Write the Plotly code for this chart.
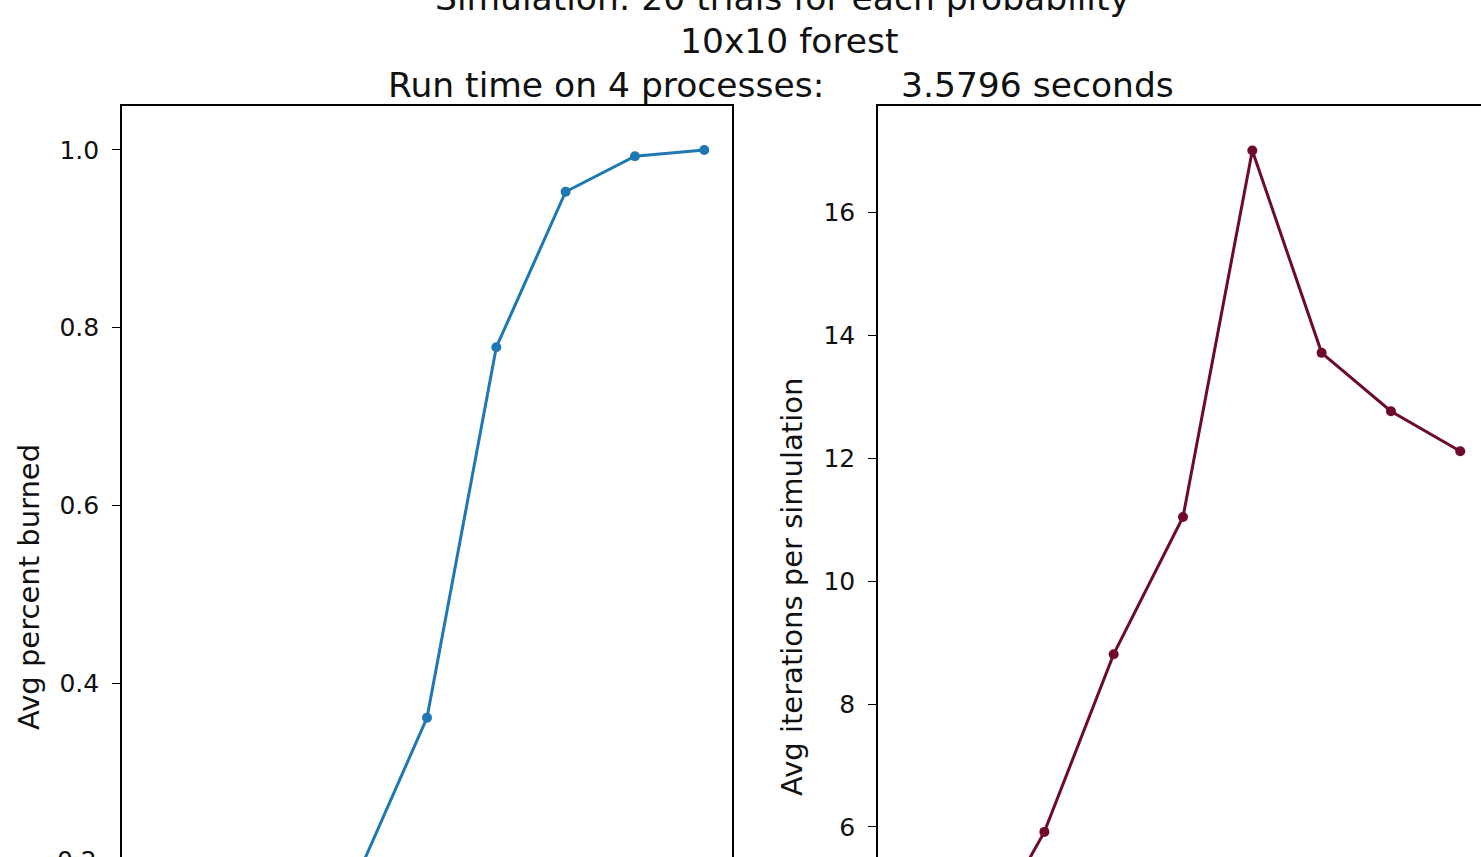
import plotly.graph_objects as go

# ---- data ----
probabilities = [0.2, 0.3, 0.4, 0.5, 0.6, 0.7, 0.8, 0.9, 1.0]
avg_percent_burned = [0.01, 0.03, 0.07, 0.184, 0.361, 0.778, 0.953, 0.993, 1.0]
avg_iterations = [2.6, 3.9, 5.92, 8.81, 11.04, 17.0, 13.71, 12.76, 12.11]

title_lines = [
    "Simulation: 20 trials for each probability",
    "10x10 forest",
    "Run time on 4 processes:" + "\u00a0" * 7 + "3.5796 seconds",
]
left_ylabel = "Avg percent burned"
right_ylabel = "Avg iterations per simulation"
left_ticks = [0.2, 0.4, 0.6, 0.8, 1.0]
right_ticks = [4, 6, 8, 10, 12, 14, 16]

W, H = 1481, 857
ML, MT = 122, 106
PW, PH = W - ML, H - MT

FONT = "DejaVu Sans"
BLUE = "#1f77b4"
MAROON = "#6e0a2e"
TEXT = "#111111"

left_yrange = [0.2043, 1.0495]
right_yrange = [5.512, 17.724]

fig = go.Figure()
fig.add_trace(go.Scatter(
    x=probabilities, y=avg_percent_burned, mode="lines+markers",
    line=dict(color=BLUE, width=3), marker=dict(color=BLUE, size=10),
    xaxis="x", yaxis="y", showlegend=False))
fig.add_trace(go.Scatter(
    x=probabilities, y=avg_iterations, mode="lines+markers",
    line=dict(color=MAROON, width=3), marker=dict(color=MAROON, size=10),
    xaxis="x2", yaxis="y2", showlegend=False))

xcommon = dict(showline=True, linecolor="black", linewidth=1.6, side="top",
               ticks="", showticklabels=False, showgrid=False, zeroline=False)
ycommon = dict(showline=True, linecolor="black", linewidth=1.6, ticks="outside",
               ticklen=8, tickwidth=1.4, tickcolor="black", showgrid=False,
               zeroline=False, ticklabelstandoff=8,
               tickfont=dict(family=FONT, size=25, color=TEXT))

left_dom = [0, 610 / PW]
right_dom = [(878 - ML) / PW, 1]

fig.update_layout(
    width=W, height=H,
    margin=dict(l=ML, r=0, t=MT, b=0, pad=0),
    paper_bgcolor="white", plot_bgcolor="white",
    xaxis=dict(domain=left_dom, range=[0.16, 1.04], anchor="y", **xcommon),
    xaxis2=dict(domain=right_dom, range=[0.16, 0.16 + (W - 878) / 610 * 0.88],
                anchor="y2", **xcommon),
    yaxis=dict(domain=[0, 1], range=left_yrange, anchor="x", mirror=True,
               tickvals=left_ticks, ticktext=[f"{v:.1f}" for v in left_ticks],
               **ycommon),
    yaxis2=dict(domain=[0, 1], range=right_yrange, anchor="x2", mirror=False,
                tickvals=right_ticks, ticktext=[str(v) for v in right_ticks],
                **ycommon),
)

def px_to_paper_x(px):
    return (px - ML) / PW

def px_to_paper_y(py):
    return (H - py) / PH

# title lines (top line is cut off by the page edge, as in the reference)
title_centers = [(782, -2), (789, 41), (781, 85)]
for txt, (cx, cy) in zip(title_lines, title_centers):
    fig.add_annotation(text=txt, x=px_to_paper_x(cx), y=px_to_paper_y(cy),
                       xref="paper", yref="paper", showarrow=False,
                       xanchor="center", yanchor="middle",
                       font=dict(family=FONT, size=34.5, color=TEXT))

# axis titles (centred on the full, uncropped axes)
fig.add_annotation(text=left_ylabel, x=px_to_paper_x(29), y=px_to_paper_y(587),
                   xref="paper", yref="paper", showarrow=False, textangle=-90,
                   xanchor="center", yanchor="middle",
                   font=dict(family=FONT, size=29, color=TEXT))
fig.add_annotation(text=right_ylabel, x=px_to_paper_x(792), y=px_to_paper_y(587),
                   xref="paper", yref="paper", showarrow=False, textangle=-90,
                   xanchor="center", yanchor="middle",
                   font=dict(family=FONT, size=29, color=TEXT))

# partially visible lowest tick label on the left axis
y_low = left_ticks[0]
fig.add_annotation(text=f"{y_low:.1f}", xref="paper", yref="y domain",
                   x=0, xshift=-23, xanchor="right",
                   y=(y_low - left_yrange[0]) / (left_yrange[1] - left_yrange[0]),
                   yanchor="middle", showarrow=False,
                   font=dict(family=FONT, size=25, color=TEXT))

fig.write_html("out.html")
